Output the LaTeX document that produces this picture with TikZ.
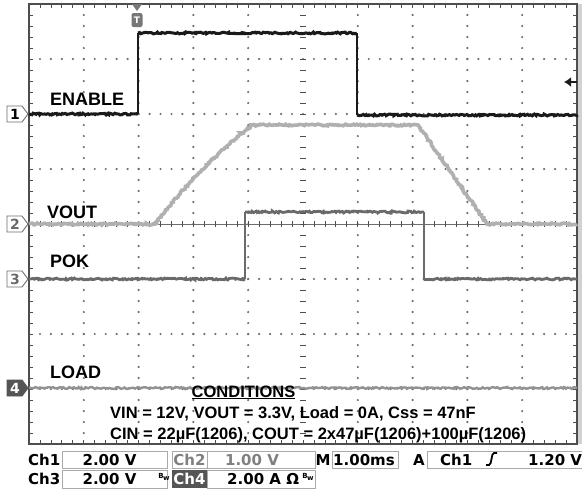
\documentclass[tikz,border=0pt]{standalone}
\usepackage{fontspec}
\setmainfont{Liberation Sans}
\newfontfamily\tekfont{DejaVu Sans}
\usetikzlibrary{decorations.pathmorphing,arrows.meta}
\definecolor{gridc}{HTML}{6E6E6E}
\definecolor{framec}{HTML}{4E4E4E}
\definecolor{traceA}{HTML}{1A1A1A}
\definecolor{traceB}{HTML}{B0B0B0}
\definecolor{traceC}{HTML}{6A6A6A}
\definecolor{traceD}{HTML}{929292}
\definecolor{boxc}{HTML}{AAAAAA}
\definecolor{markc}{HTML}{555555}
\begin{document}
\pgfmathsetseed{7}
\begin{tikzpicture}[x=1pt,y=-1pt,
noisy/.style={decorate,decoration={random steps,segment length=1.5pt,amplitude=0.9pt}},
ch1/.style={traceA,line width=3pt,noisy},
ch2/.style={traceB,line width=3.6pt,noisy},
ch3/.style={traceC,line width=2.8pt,noisy},
ch4/.style={traceD,line width=2.4pt,noisy},
lbl/.style={font=\bfseries\fontsize{18}{18}\selectfont,inner sep=0,anchor=base west},
cond/.style={font=\bfseries\fontsize{16.5}{16.5}\selectfont,inner sep=0,anchor=base west},
stat/.style={font=\tekfont\bfseries\fontsize{15}{15}\selectfont,inner sep=0,anchor=base west},
statc/.style={stat,anchor=base},
sbox/.style={draw=boxc,line width=0.9pt},
bw/.style={font=\tekfont\bfseries\fontsize{7}{7}\selectfont,inner sep=0},
mk/.style={font=\tekfont\bfseries\fontsize{14}{14}\selectfont,inner sep=0}]
\fill[white] (0,0) rectangle (582,491);
\useasboundingbox (0,0) rectangle (582,491);
\fill[gray!35] (577,4) rectangle (582,444);
\foreach \i in {1,2,3,4,6,7,8,9} \foreach \j in {1,...,39} \fill[gridc] (29+\i*54.8,4+\j*11) circle (1.2);
\foreach \j in {1,2,3,5,6,7} \foreach \k in {1,...,49} \fill[gridc] (29+\k*10.96,4+\j*55) circle (1.2);
\draw[gridc,line width=0.5pt] (29,224) -- (577,224);
\foreach \k in {1,...,49} {
  \draw[framec,line width=0.8pt] (29+\k*10.96,4) -- ++(0,4) (29+\k*10.96,444) -- ++(0,-4) (29+\k*10.96,221) -- ++(0,6);
}
\foreach \j in {1,...,39} {
  \draw[framec,line width=0.8pt] (29,4+\j*11) -- ++(4,0) (577,4+\j*11) -- ++(-4,0) (300,4+\j*11) -- ++(6,0);
}
\draw[framec,line width=1.6pt] (29,4) rectangle (577,444);
\draw[ch4] (29,388) -- (577,388);
\draw[ch2] (29,224) -- (155,224) .. controls (185,185) and (220,150) .. (252,125) -- (418,125) -- (487,224) -- (577,224);
\draw[ch3] (29,279) -- (245,279) (245,212) -- (424,212) (424,279) -- (577,279);
\draw[traceC,line width=1.3pt] (245,279) -- (245,212) (424,212) -- (424,279);
\draw[ch1] (29,114) -- (138,114) (138,33) -- (357,33) (357,115) -- (577,115);
\draw[traceA,line width=1.3pt] (138,114) -- (138,33) (357,33) -- (357,115);
\foreach \y/\n/\f/\t/\d in {114/1/white/black/gridc, 224/2/white/traceC/gridc, 279/3/white/traceC/gridc, 388/4/markc/white/markc} {
  \filldraw[fill=\f,draw=\d,line width=0.9pt] (7,\y-8) -- (22,\y-8) -- (28,\y) -- (22,\y+8) -- (7,\y+8) -- cycle;
  \node[mk,text=\t] (mark\n) at (15,\y) {\n};
}
\fill[markc!80] (132,4) -- (142,4) -- (137,11) -- cycle;
\node[fill=markc!80,rounded corners=2pt,minimum width=11pt,minimum height=14pt,inner sep=0,text=white,font=\tekfont\bfseries\fontsize{9}{9}\selectfont] (trig) at (137,20) {T};
\coordinate (tlev) at (577,82);
\draw[traceA,line width=1.6pt,-{Latex[length=7pt,width=10pt]}] (tlev) -- ++(-13,0);
\node[lbl] (enable) at (50,105) {ENABLE};
\node[lbl] (vout) at (47,218) {VOUT};
\node[lbl] (pok) at (50,267) {POK};
\node[lbl] (load) at (50,378) {LOAD};
\node[cond,anchor=base] (cond) at (243.5,397) {\underline{CONDITIONS}};
\node[cond] (vin) at (110,418) {VIN = 12V, VOUT = 3.3V, Load = 0A, Css = 47nF};
\node[cond] (cin) at (110,439) {CIN = 22µF(1206), COUT = 2x47µF(1206)+100µF(1206)};
\draw[sbox] (62,451) rectangle (167,468) (172,451) rectangle (207,468) (207,451) rectangle (315,468) (332,451) rectangle (398,468) (427,451) rectangle (600,468);
\draw[sbox] (62,470) rectangle (167,488) (207,470) rectangle (315,488);
\fill[markc] (172,470) rectangle (207,488);
\node[stat] (s1) at (28,465) {Ch1};
\node[statc] (s2) at (109.5,465) {2.00 V};
\node[statc,text=gray] (s3) at (189.5,465) {Ch2};
\node[statc,text=gray] (s4) at (252,465) {1.00 V};
\node[statc] (s5) at (323,465) {M};
\node[stat] (s6) at (333,465) {1.00ms};
\node[statc] (s7) at (419,465) {A};
\node[stat] (s8) at (440,465) {Ch1};
\draw[black,line width=1.8pt] (486,465) -- (489,465) .. controls (492,465) and (491,453) .. (494,453) -- (497,453);
\node[stat] (s9) at (528,465) {1.20 V};
\node[stat] (t1) at (28,484) {Ch3};
\node[statc] (t2) at (109.5,484) {2.00 V};
\node[bw] (bw1) at (164,477) {\raisebox{2pt}{B}\kern-0.5pt w};
\node[statc,text=white] (t3) at (189.5,484) {Ch4};
\node[stat] (t4) at (227,484) {2.00 A Ω};
\node[bw] (bw2) at (308,477) {\raisebox{2pt}{B}\kern-0.5pt w};
\end{tikzpicture}
\end{document}
